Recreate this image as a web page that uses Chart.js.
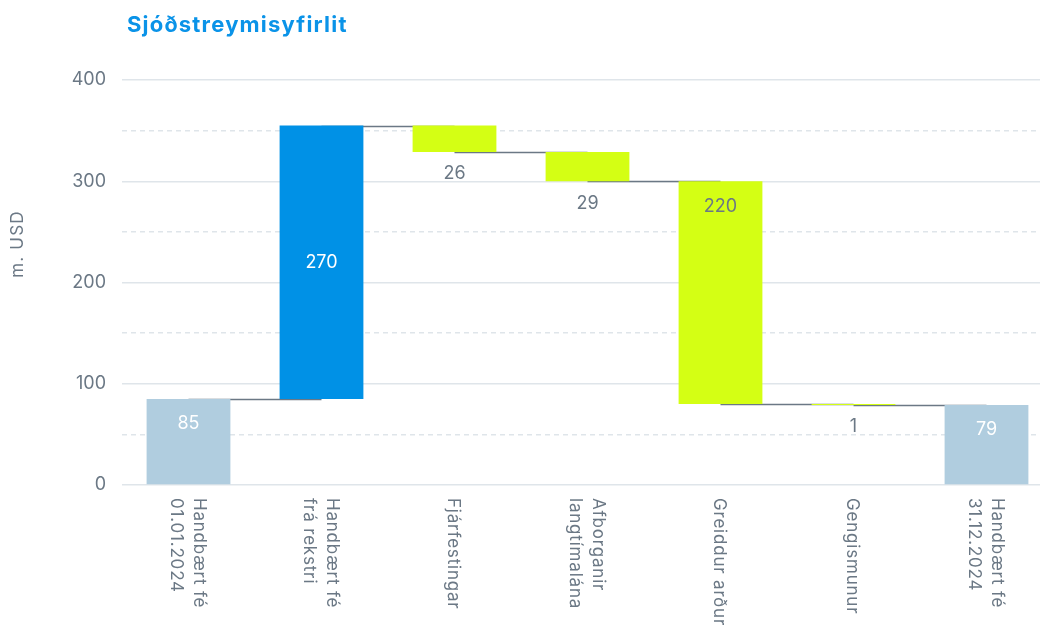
<!DOCTYPE html>
<html lang="is">
<head>
<meta charset="utf-8">
<title>Sjóðstreymisyfirlit</title>
<script src="https://cdn.jsdelivr.net/npm/chart.js@4.4.1/dist/chart.umd.min.js"></script>
<style>
    html, body { margin: 0; padding: 0; overflow: hidden; background: #fff; }
    #wrap { position: relative; width: 1053px; height: 626px; }
    #title {
        position: absolute; left: 127px; top: 11px;
        font-family: Inter, "Noto Sans", sans-serif; font-weight: 700;
        font-size: 22px; letter-spacing: 1.2px; color: #0a93e8; margin: 0;
    }
</style>
</head>
<body>
<div id="wrap">
    <h1 id="title">Sjóðstreymisyfirlit</h1>
    <canvas id="flowChart"></canvas>
</div>
<script>
// categories (lines of each label) and the change for each step
const categories = [
    ['Handbært fé', '01.01.2024'],
    ['Handbært fé', 'frá rekstri'],
    ['Fjárfestingar'],
    ['Afborganir', 'langtímalána'],
    ['Greiddur arður'],
    ['Gengismunur'],
    ['Handbært fé', '31.12.2024']
];
const changes = [85, 270, -26, -29, -220, -1, 79];
const isTotal = [true, false, false, false, false, false, true];
const yTicks = [0, 100, 200, 300, 400];
const yTitle = 'm. USD';

const grey = '#6b7885';
const totalColor = '#b0cddf';
const upColor = '#0091e6';
const downColor = '#d4ff14';
const font = 'Inter, "Noto Sans", sans-serif';

// floating bars [start, end]
let running = 0;
const bars = changes.map((v, i) => {
    if (isTotal[i]) {
        running = v;
        return [0, v];
    }
    const start = running;
    running += v;
    return [start, running];
});
const levels = bars.map(b => b[1]);

// where the value text sits on each bar
const labelPos = ['top', 'middle', 'below', 'below', 'top', 'below', 'top'];

const connectors = {
    id: 'connectors',
    beforeDatasetsDraw(chart) {
        const ctx = chart.ctx;
        const meta = chart.getDatasetMeta(0);
        const y = chart.scales.y;
        ctx.save();
        ctx.strokeStyle = grey;
        ctx.lineWidth = 1.5;
        for (let i = 0; i < meta.data.length - 1; i++) {
            const py = Math.round(y.getPixelForValue(levels[i])) + 0.5;
            ctx.beginPath();
            ctx.moveTo(meta.data[i].x, py);
            ctx.lineTo(meta.data[i + 1].x, py);
            ctx.stroke();
        }
        ctx.restore();
    }
};

const valueLabels = {
    id: 'valueLabels',
    afterDatasetsDraw(chart) {
        const ctx = chart.ctx;
        const meta = chart.getDatasetMeta(0);
        ctx.save();
        ctx.font = '18px ' + font;
        ctx.textAlign = 'center';
        ctx.textBaseline = 'middle';
        meta.data.forEach((el, i) => {
            const top = Math.min(el.y, el.base);
            const bottom = Math.max(el.y, el.base);
            let py;
            if (labelPos[i] === 'top') py = top + 25;
            else if (labelPos[i] === 'middle') py = (top + bottom) / 2;
            else py = bottom + 22;
            const light = isTotal[i] || changes[i] > 0;
            ctx.fillStyle = light ? '#ffffff' : grey;
            ctx.fillText(String(Math.abs(changes[i])), el.x, py);
        });
        ctx.restore();
    }
};

const axisText = {
    id: 'axisText',
    afterDraw(chart) {
        const ctx = chart.ctx;
        const meta = chart.getDatasetMeta(0);
        const area = chart.chartArea;
        ctx.save();
        ctx.fillStyle = grey;
        ctx.letterSpacing = '0.8px';

        // category labels, turned clockwise
        ctx.font = '17px ' + font;
        ctx.textAlign = 'left';
        ctx.textBaseline = 'middle';
        const lh = 23;
        categories.forEach((lines, i) => {
            ctx.save();
            ctx.translate(meta.data[i].x - 1, area.bottom + 13);
            ctx.rotate(Math.PI / 2);
            lines.forEach((line, j) => {
                ctx.fillText(line, 0, (j - (lines.length - 1) / 2) * lh);
            });
            ctx.restore();
        });

        // y axis title
        ctx.letterSpacing = '1.2px';
        ctx.font = '17px ' + font;
        ctx.textAlign = 'center';
        ctx.translate(18, 244);
        ctx.rotate(-Math.PI / 2);
        ctx.fillText(yTitle, 0, 0);
        ctx.restore();
    }
};

const ctx = document.getElementById('flowChart').getContext('2d');
new Chart(ctx, {
    type: 'bar',
    data: {
        labels: categories.map(c => c.join(' ')),
        datasets: [{
            data: bars,
            backgroundColor: changes.map((v, i) => isTotal[i] ? totalColor : (v > 0 ? upColor : downColor)),
            borderWidth: 0,
            borderSkipped: false,
            categoryPercentage: 1,
            barPercentage: 0.63
        }]
    },
    options: {
        responsive: true,
        maintainAspectRatio: false,
        animation: false,
        layout: { padding: { top: 80, bottom: 141, left: 0, right: 0 } },
        plugins: {
            legend: { display: false },
            tooltip: { enabled: false }
        },
        scales: {
            x: { display: false },
            y: {
                min: 0,
                max: 400,
                afterFit(scale) { scale.width = 122; },
                ticks: {
                    stepSize: 50,
                    padding: 16,
                    color: grey,
                    font: { family: font, size: 18 },
                    callback: v => yTicks.includes(v) ? v : ''
                },
                grid: {
                    color: '#dfe5ea',
                    lineWidth: 1.5,
                    drawTicks: false
                },
                border: {
                    display: false,
                    dash: c => (c.tick && !yTicks.includes(c.tick.value)) ? [5, 4] : []
                },
                title: { display: false }
            }
        }
    },
    plugins: [connectors, valueLabels, axisText]
});
</script>
</body>
</html>
